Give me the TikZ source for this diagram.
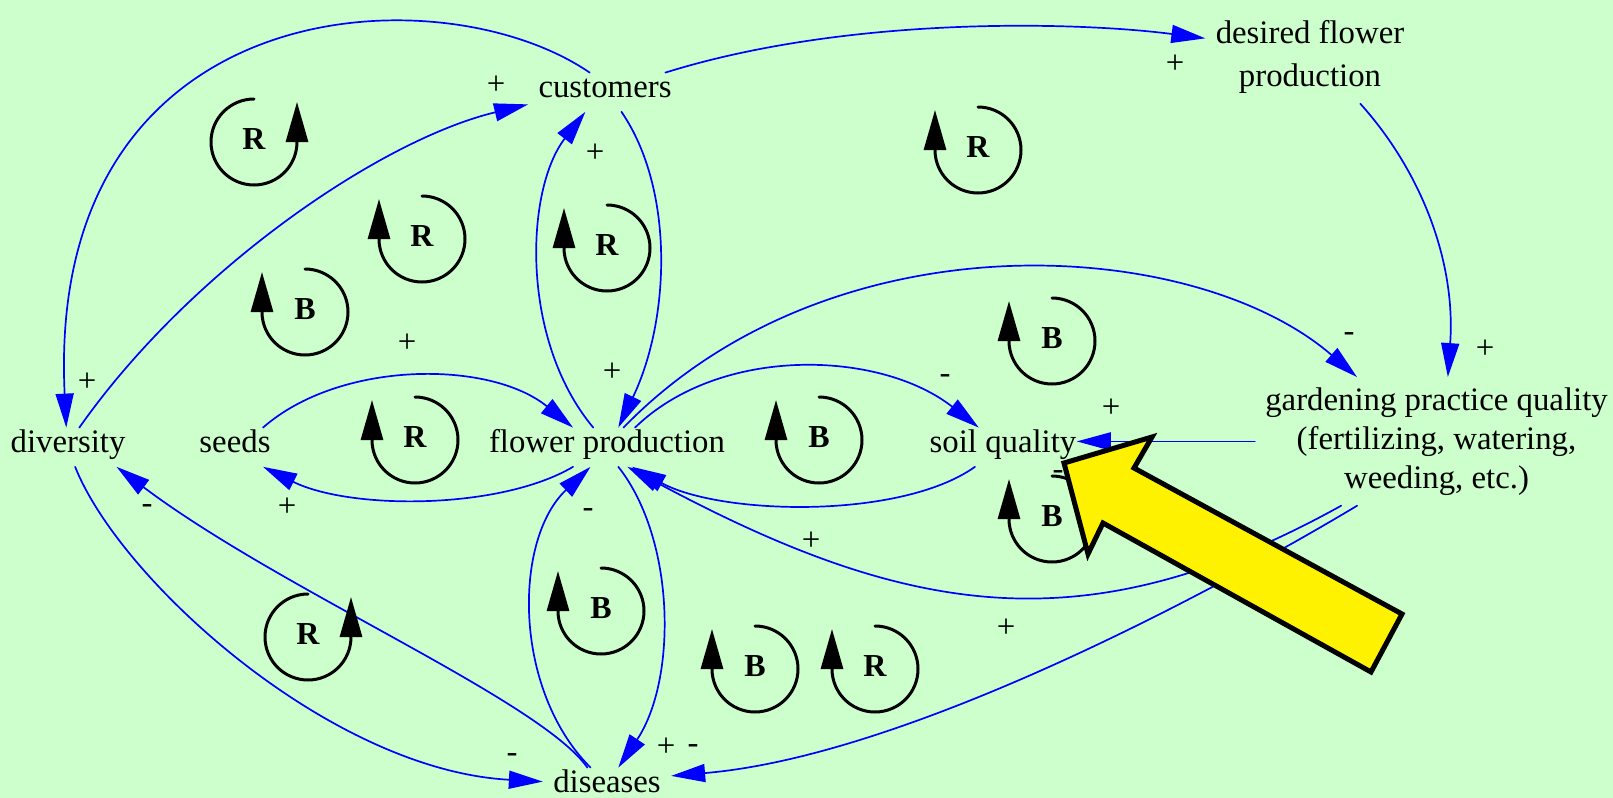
\documentclass[tikz,border=0pt]{standalone}
\usepackage{fontspec}
\setmainfont{Liberation Serif}
\usetikzlibrary{arrows.meta}
\definecolor{cldbg}{HTML}{CCFFCC}
\tikzset{
  every picture/.append style={line cap=round,line join=round},
  cld var/.style={font=\fontsize{16.4}{19.7}\selectfont,inner sep=5pt,text height=0.7em,text depth=0.22em},
  cld var2/.style={font=\fontsize{16.4}{#1}\selectfont,inner sep=5pt,align=center},
  cld link/.style={blue,line width=0.85pt,-{Triangle[length=17pt,width=9pt]}},
  cld sign/.style={font=\fontsize{16.4}{19.7}\selectfont,inner sep=0pt,text height=0.5em,text depth=0pt},
  cld loop/.style={line width=1.5pt,-{Triangle[length=20pt,width=11pt]}},
  cld letter/.style={font=\fontsize{16}{19}\selectfont\bfseries,inner sep=0pt,text height=0.66em,text depth=0pt},
  loop left/.pic={
    \draw[cld loop] (0,43) arc[start angle=90,end angle=-180,radius=43] -- ++(0,40);
    \node[cld letter] (-tag) at (0,-1) {#1};
  },
  loop right/.pic={
    \draw[cld loop] (0,43) arc[start angle=90,end angle=360,radius=43] -- ++(0,40);
    \node[cld letter] (-tag) at (0,-1) {#1};
  },
  big pointer/.style={fill=yellow,draw=black,line width=2.5pt,line join=miter}
}
\begin{document}
\begin{tikzpicture}[x=0.5pt,y=0.5pt]
  \useasboundingbox (0,0) rectangle (1613,-798);
  \fill[cldbg] (0,0) rectangle (1613,-798);

  % variables
  \node[cld var,anchor=base] (customers) at (605,-97) {customers};
  \node[cld var2=21.5pt] (desired) at (1310,-56.8) {desired flower\\production};
  \node[cld var,anchor=base] (diversity) at (68,-452) {diversity};
  \node[cld var,anchor=base] (seeds) at (235,-452) {seeds};
  \node[cld var,anchor=base] (flower) at (607,-452) {flower production};
  \node[cld var,anchor=base,inner xsep=0pt] (soil) at (1003,-452) {soil quality};
  \node[cld var2=19.5pt] (gardening) at (1436.5,-441.4) {gardening practice quality\\(fertilizing, watering,\\weeding, etc.)};
  \node[cld var,anchor=base] (diseases) at (607,-792) {diseases};

  % links
  \draw[cld link] (customers.128) .. controls (440,30) and (45,10) .. (diversity.95);
  \draw[cld link] (diversity.60) .. controls (190,-270) and (380,-140) .. (customers.189);
  \draw[cld link] (customers.18) .. controls (850,-15) and (1080,-22) .. (desired.170);
  \draw[cld link] (desired.-43) .. controls (1420,-170) and (1456,-260) .. (gardening.80);
  \draw[cld link] (customers.-50) .. controls (675,-190) and (670,-320) .. (flower.60);
  \draw[cld link] (flower.125) .. controls (520,-340) and (525,-190) .. (customers.-135);
  \draw[cld link] (seeds.35) .. controls (340,-360) and (490,-360) .. (flower.150);
  \draw[cld link] (flower.-150) .. controls (500,-510) and (350,-510) .. (seeds.-35);
  \draw[cld link] (flower.35) .. controls (720,-345) and (880,-350) .. (soil.141);
  \draw[cld link] (soil.-145) .. controls (900,-520) and (720,-515) .. (flower.-38);
  \draw[cld link] (flower.50) .. controls (832,-213) and (1194,-236) .. (gardening.141);
  \draw[cld link] (gardening.west) -- (gardening.west -| soil.east);
  \draw[cld link] (gardening.-146) .. controls (1085,-648) and (906,-616) .. (flower.-44);
  \draw[cld link] (gardening.-141) .. controls (1250,-570) and (920,-755) .. (diseases.10);
  \draw[cld link] (flower.-60) .. controls (676,-540) and (677,-680) .. (diseases.60);
  \draw[cld link] (diseases.130) .. controls (513,-690) and (513,-540) .. (flower.-130);
  \draw[cld link] (diversity.-70) .. controls (120,-580) and (330,-770) .. (diseases.175);
  \draw[cld link] (diseases.135) .. controls (540,-700) and (280,-590) .. (diversity.-22);

  % polarities
  \node[cld sign] (s1) at (87,-386) {+};
  \node[cld sign] (s2) at (496,-89) {+};
  \node[cld sign] (s3) at (1175,-68) {+};
  \node[cld sign] (s4) at (1485,-353) {+};
  \node[cld sign] (s5) at (612,-376) {+};
  \node[cld sign] (s6) at (595,-157) {+};
  \node[cld sign] (s7) at (407,-347) {+};
  \node[cld sign] (s8) at (287,-511) {+};
  \node[cld sign] (s9) at (1111,-412) {+};
  \node[cld sign] (s10) at (811,-545) {+};
  \node[cld sign] (s11) at (1006,-632) {+};
  \node[cld sign] (s12) at (666,-751) {+};
  \node[cld sign] (s13) at (945,-378) {-};
  \node[cld sign] (s14) at (1349,-336) {-};
  \node[cld sign] (s15) at (588,-512) {-};
  \node[cld sign] (s16) at (147,-508) {-};
  \node[cld sign] (s17) at (512,-757) {-};
  \node[cld sign] (s18) at (693,-748) {-};
  \node[cld sign] (s19) at (1058,-474) {-};

  % loop markers
  \pic (lp1) at (254,-142) {loop right=R};
  \pic (lp2) at (422,-239) {loop left=R};
  \pic (lp3) at (305,-312) {loop left=B};
  \pic (lp4) at (607,-248) {loop left=R};
  \pic (lp5) at (978,-150) {loop left=R};
  \pic (lp6) at (415,-440) {loop left=R};
  \pic (lp7) at (819,-440) {loop left=B};
  \pic (lp8) at (1052,-341) {loop left=B};
  \pic (lp9) at (1052,-519) {loop left=B};
  \pic (lp10) at (308,-637) {loop right=R};
  \pic (lp11) at (601,-611) {loop left=B};
  \pic (lp12) at (755,-669) {loop left=B};
  \pic (lp13) at (875,-669) {loop left=R};

  % pointer
  \draw[big pointer] (1064,-463) -- (1152,-437) -- (1134,-468) -- (1402,-614)
    -- (1371,-672) -- (1103,-523) -- (1088,-554) -- cycle;
\end{tikzpicture}
\end{document}
